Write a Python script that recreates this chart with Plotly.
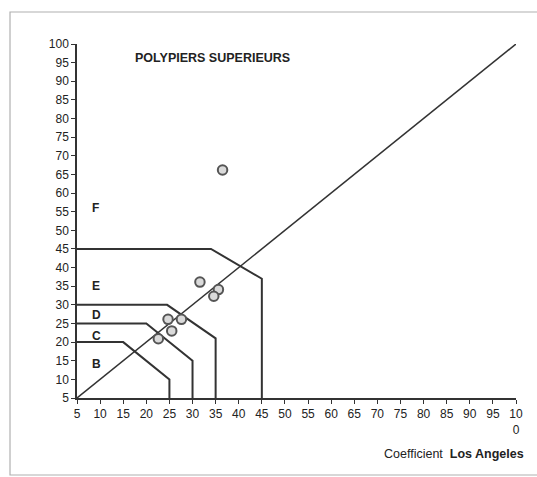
import plotly.graph_objects as go

# Los Angeles coefficient measurements (x) vs. the y-axis coefficient
pts_x = [36.5, 31.6, 35.6, 34.6, 24.7, 27.6, 25.5, 22.6]
pts_y = [66.2, 36.1, 34.1, 32.3, 26.1, 26.1, 23.0, 20.9]

# class boundaries
zone_b_x = [5, 15, 25, 25]
zone_b_y = [20, 20, 10, 5]
zone_c_x = [5, 20, 30, 30]
zone_c_y = [25, 25, 15, 5]
zone_d_x = [5, 24.5, 35, 35]
zone_d_y = [30, 30, 21, 5]
zone_e_x = [5, 34, 45, 45]
zone_e_y = [45, 45, 37, 5]

# 1:1 line
diag_x = [5, 100]
diag_y = [5, 100]

# zone labels
zone_names = ["F", "E", "D", "C", "B"]
zone_label_x = [7.8, 7.8, 7.8, 7.8, 7.8]
zone_label_y = [56, 35, 27.2, 21.6, 14]

tick_vals = list(range(5, 101, 5))
x_tick_text = [str(v) for v in tick_vals[:-1]] + ["10<br>0"]
y_tick_text = [str(v) for v in tick_vals]

FONT = "Liberation Sans, Arial, sans-serif"
LINE = "#333333"

fig = go.Figure()

fig.add_trace(go.Scatter(x=diag_x, y=diag_y, mode="lines",
                         line=dict(color=LINE, width=1.5), hoverinfo="skip"))

for zx, zy in [(zone_b_x, zone_b_y), (zone_c_x, zone_c_y),
               (zone_d_x, zone_d_y), (zone_e_x, zone_e_y)]:
    fig.add_trace(go.Scatter(x=zx, y=zy, mode="lines",
                             line=dict(color=LINE, width=2), hoverinfo="skip"))

fig.add_trace(go.Scatter(x=pts_x, y=pts_y, mode="markers",
                         marker=dict(symbol="circle", size=9.5, color="#dadada",
                                     line=dict(color="#555555", width=2))))

for name, lx, ly in zip(zone_names, zone_label_x, zone_label_y):
    fig.add_annotation(x=lx, y=ly, text=f"<b>{name}</b>", showarrow=False,
                       xanchor="left", yanchor="middle",
                       font=dict(family=FONT, size=12, color="#222"))

fig.add_annotation(x=17.1, y=96.2, text="<b>POLYPIERS SUPERIEURS</b>",
                   showarrow=False, xanchor="left", yanchor="middle",
                   font=dict(family=FONT, size=12.5, color="#222"))

fig.add_annotation(xref="paper", yref="paper", x=1.023, y=-0.158,
                   text="Coefficient  <b>Los Angeles</b>", showarrow=False,
                   xanchor="right", yanchor="middle",
                   font=dict(family=FONT, size=12.5, color="#222"))

# light outer frame: top, left and bottom edges (open on the right)
fig.add_shape(type="path", xref="paper", yref="paper",
              path="M 1.3,1.0904 L -0.1526,1.0904 L -0.1526,-0.2175 L 1.3,-0.2175",
              line=dict(color="#b0b0b0", width=1.2), layer="below")

axis_common = dict(range=[5, 100], tickmode="array", tickvals=tick_vals,
                   showgrid=False, zeroline=False, showline=True,
                   linecolor=LINE, linewidth=1.5, ticks="outside", ticklen=4,
                   tickwidth=1.2, tickcolor=LINE,
                   tickfont=dict(family=FONT, size=12, color="#222"))

fig.update_xaxes(ticktext=x_tick_text, tickangle=0, **axis_common)
fig.update_yaxes(ticktext=y_tick_text, **axis_common)

fig.update_layout(width=537, height=477, showlegend=False,
                  margin=dict(l=77, r=21, t=44, b=79),
                  paper_bgcolor="white", plot_bgcolor="white")

fig.write_html("out.html")
